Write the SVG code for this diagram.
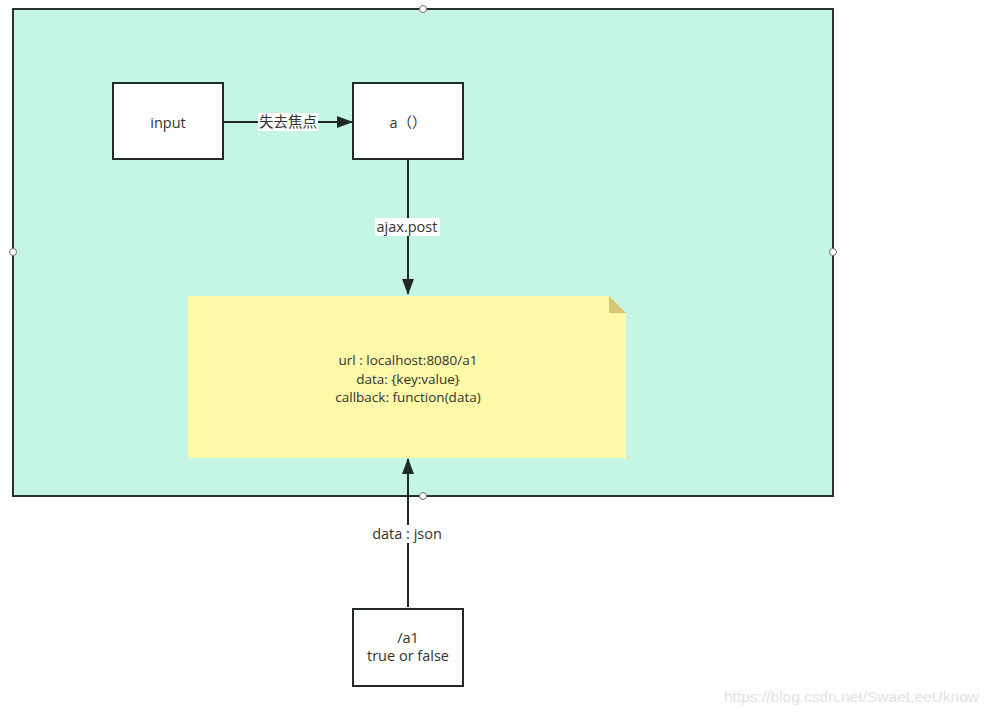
<svg xmlns="http://www.w3.org/2000/svg" width="991" height="715" viewBox="0 0 991 715">
  <style>
    .box { fill: #ffffff; stroke: #222a27; stroke-width: 2; }
    .lbl { font-family: "Open Sans", "Noto Sans", "Noto Sans CJK SC", sans-serif; font-size: 14.5px; fill: #333333; text-anchor: middle; }
    .note { font-size: 13.5px; }
    .edge { stroke: #1f2a26; stroke-width: 2; fill: none; }
    .handle { fill: #ffffff; stroke: #7a6a6a; stroke-width: 1; }
    .tag { fill: #ffffff; }
  </style>
  <defs>
    <marker id="arrow" viewBox="0 0 16 12" refX="15" refY="6" markerWidth="16" markerHeight="12" markerUnits="userSpaceOnUse" orient="auto">
      <path d="M0,0 L16,6 L0,12 z" fill="#1f2a26"/>
    </marker>
  </defs>
  <rect width="991" height="715" fill="#ffffff"/>

  <!-- container -->
  <g id="container">
    <rect x="13" y="9" width="820" height="487" fill="#c5f6e5" stroke="#26332f" stroke-width="2"/>
    <circle class="handle" cx="423" cy="9" r="3.5"/>
    <circle class="handle" cx="13" cy="252" r="3.5"/>
    <circle class="handle" cx="833" cy="252" r="3.5"/>
    <circle class="handle" cx="423" cy="496" r="3.5"/>
  </g>

  <!-- connectors -->
  <g id="connectors">
    <line class="edge" x1="224" y1="122" x2="352" y2="122" marker-end="url(#arrow)"/>
    <rect class="tag" x="258" y="113" width="60" height="18"/>
    <text class="lbl" x="288" y="127">失去焦点</text>

    <line class="edge" x1="408" y1="160" x2="408" y2="294" marker-end="url(#arrow)"/>
    <rect class="tag" x="375" y="218" width="65" height="18"/>
    <text class="lbl" x="407" y="232">ajax.post</text>

    <line class="edge" x1="408" y1="607" x2="408" y2="459" marker-end="url(#arrow)"/>
    <rect fill="#ffffff" x="369" y="525" width="76" height="18"/>
    <text class="lbl" x="407" y="539">data : json</text>
  </g>

  <g id="input">
    <rect class="box" x="113" y="83" width="110" height="76"/>
    <text class="lbl" x="168" y="128">input</text>
  </g>

  <g id="a-func">
    <rect class="box" x="353" y="83" width="110" height="76"/>
    <text class="lbl" x="408" y="128">a（）</text>
  </g>

  <g id="request-note">
    <path d="M188,296 H609 L626,313 V458 H188 Z" fill="#fff9a8"/>
    <path d="M609,296 L626,313 H609 Z" fill="#d6c678"/>
    <text class="lbl note" x="408" y="365">url : localhost:8080/a1</text>
    <text class="lbl note" x="408" y="383.5">data: {key:value}</text>
    <text class="lbl note" x="408" y="402">callback: function(data)</text>
  </g>

  <g id="a1">
    <rect class="box" x="353" y="609" width="110" height="77"/>
    <text class="lbl" x="408" y="643">/a1</text>
    <text class="lbl" x="408" y="661">true or false</text>
  </g>

  <text x="979" y="702" font-family="'Liberation Sans', Arial, sans-serif" font-size="15.5" fill="#e2e2e2" text-anchor="end">https://blog.csdn.net/SwaeLeeUknow</text>
</svg>
